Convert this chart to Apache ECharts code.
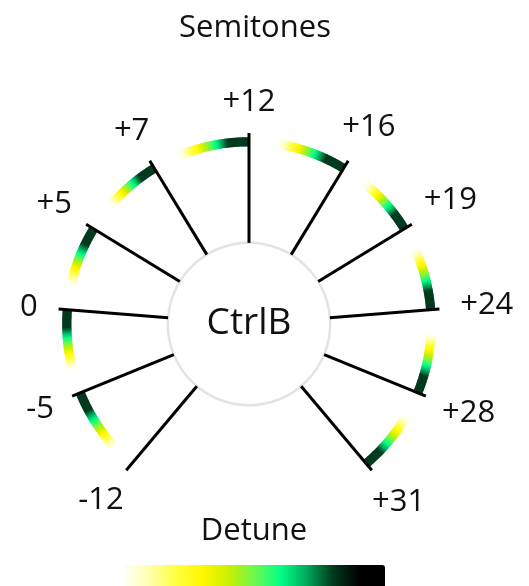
<!DOCTYPE html>
<html>
<head>
<meta charset="utf-8">
<script src="https://cdn.jsdelivr.net/npm/echarts@6/dist/echarts.min.js"></script>
<style>
  html, body { margin: 0; padding: 0; background: #ffffff; }
  #chart { width: 529px; height: 586px; }
</style>
</head>
<body>
<div id="chart"></div>
<script>
// ---- data ----
const semitones  = ['-12', '-5', '0', '+5', '+7', '+12', '+16', '+19', '+24', '+28', '+31'];
// dial position of each spoke, degrees clockwise from the top
const dialPos    = [-140, -112.2, -85.5, -58.5, -31.3, 0, 31.3, 58.5, 85.5, 112.2, 140];
// angular extent of each detune arc (degrees), drawn back from its spoke
const detuneSpan = [0, 20.7, 19.3, 19.4, 18.3, 23, 22.4, 19.1, 20.2, 19.7, 19.8];
// detune colour scale (legend, low -> high)
const detuneColors = ['#fffff5', '#ffffa8', '#ffff3c', '#fff700', '#c8f000', '#6cf850',
                      '#00ff88', '#00a85a', '#003a1e', '#000000', '#000000'];
const hubLabel = 'CtrlB';
const titleText = 'Semitones';
const legendText = 'Detune';

// ---- layout constants (radius axis normalised 0..1) ----
const HUB_R = 0.425, SPOKE_R = 1.0, ARC_IN = 0.93, ARC_OUT = 0.978;
const FONT = '"Open Sans", "Noto Sans", sans-serif';

const measureCtx = document.createElement('canvas').getContext('2d');
function textWidth(t, font) { measureCtx.font = font; return measureCtx.measureText(t).width; }

function arcColor(t) {
  let v = 1.15 - 1.2 * t;
  v = Math.max(0, Math.min(0.8, v));
  return echarts.color.lerp(v, detuneColors);
}

const chart = echarts.init(document.getElementById('chart'), null, { renderer: 'canvas' });

const spokeData = semitones.map((s, i) => [SPOKE_R, dialPos[i], detuneSpan[i], i]);

const option = {
  backgroundColor: '#ffffff',
  animation: false,
  polar: { center: [249, 324], radius: 191 },
  radiusAxis: { type: 'value', min: 0, max: 1, show: false },
  angleAxis: { type: 'value', min: -180, max: 180, startAngle: 270, clockwise: true, show: false },
  visualMap: {
    type: 'continuous', orient: 'horizontal', seriesIndex: [],
    min: 0, max: 1, left: 125, top: 565, itemWidth: 26, itemHeight: 260,
    padding: 0, calculable: false, hoverLink: false, text: null,
    inRange: { color: detuneColors }
  },
  graphic: [
    { type: 'text', x: 255, y: 28, style: { text: titleText, font: '31px ' + FONT, fill: '#111',
      align: 'center', verticalAlign: 'middle', textAlign: 'center', textVerticalAlign: 'middle' } },
    { type: 'text', x: 254, y: 531, style: { text: legendText, font: '31px ' + FONT, fill: '#111',
      align: 'center', verticalAlign: 'middle', textAlign: 'center', textVerticalAlign: 'middle' } }
  ],
  series: [
    {
      type: 'custom', coordinateSystem: 'polar', silent: true,
      data: [[0, 0]],
      renderItem: function (params, api) {
        const c = api.coord([0, 0]);
        const e = api.coord([HUB_R, 0]);
        const r = Math.hypot(e[0] - c[0], e[1] - c[1]);
        return { type: 'group', children: [
          { type: 'circle', shape: { cx: c[0], cy: c[1], r: r },
            style: { fill: '#ffffff', stroke: '#e3e3e3', lineWidth: 2.5 } },
          { type: 'text', x: c[0], y: c[1] - 1, style: { text: hubLabel, font: '37px ' + FONT, fill: '#111',
            align: 'center', verticalAlign: 'middle', textAlign: 'center', textVerticalAlign: 'middle' } }
        ] };
      }
    },
    {
      type: 'custom', coordinateSystem: 'polar', silent: true,
      data: spokeData,
      renderItem: function (params, api) {
        const pos = api.value(1), span = api.value(2), idx = api.value(3);
        const children = [];
        if (span > 0) {
          const N = 50;
          for (let k = 0; k < N; k++) {
            const a0 = pos - span * k / N;
            const a1 = pos - span * Math.min(1, (k + 1.6) / N);
            const t = (k + 0.5) / N;
            const pts = [api.coord([ARC_OUT, a0]), api.coord([ARC_OUT, a1]),
                         api.coord([ARC_IN, a1]), api.coord([ARC_IN, a0])];
            children.push({ type: 'polygon', shape: { points: pts }, style: { fill: arcColor(t) } });
          }
        }
        const c = api.coord([0, pos]);
        const p0 = api.coord([HUB_R, pos]);
        const p1 = api.coord([SPOKE_R, pos]);
        children.push({ type: 'line', shape: { x1: p0[0], y1: p0[1], x2: p1[0], y2: p1[1] },
          style: { stroke: '#000000', lineWidth: 3, lineCap: 'butt' } });
        // label beyond the spoke end
        const L = Math.hypot(p1[0] - c[0], p1[1] - c[1]);
        const ux = (p1[0] - c[0]) / L, uy = (p1[1] - c[1]) / L;
        const font = '31px ' + FONT;
        const txt = semitones[idx];
        const w = textWidth(txt, font);
        const d = L * 1.162 + Math.abs(ux) * (w / 2 - 10);
        children.push({ type: 'text', x: c[0] + ux * d, y: c[1] + uy * d,
          style: { text: txt, font: font, fill: '#111', align: 'center', verticalAlign: 'middle',
                   textAlign: 'center', textVerticalAlign: 'middle' } });
        return { type: 'group', children: children };
      }
    }
  ]
};
chart.setOption(option);
</script>
</body>
</html>
